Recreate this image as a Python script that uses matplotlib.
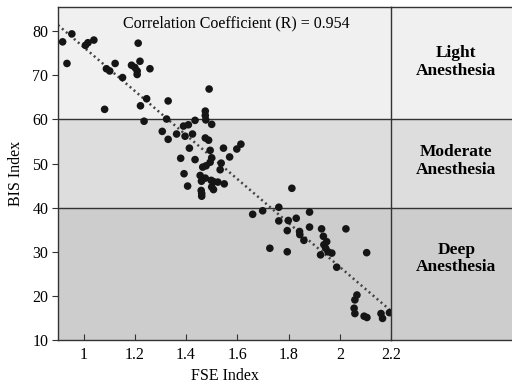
"""FSE index vs BIS index scatter with anesthesia depth bands"""
from matplotlib import pyplot as plt
import numpy as np

# ===== data =====
fse = [0.918, 0.954, 0.935, 1.007, 1.017, 1.040, 1.213, 1.22, 1.123, 1.089, 1.102,
       1.187, 1.200, 1.209, 1.209, 1.259, 1.152, 1.246, 1.330, 1.490, 1.082, 1.222,
       1.236, 1.324, 1.390, 1.409, 1.435, 1.475, 1.475, 1.477, 1.500, 1.307, 1.330,
       1.363, 1.396, 1.425, 1.413, 1.475, 1.488, 1.494, 1.546, 1.598, 1.614, 1.379,
       1.435, 1.500, 1.537, 1.570, 1.465, 1.478, 1.494, 1.533, 1.392, 1.455, 1.465,
       1.475, 1.498, 1.507, 1.524, 1.549, 1.460, 1.406, 1.500, 1.507, 1.459, 1.461,
       1.461, 1.813, 1.660, 1.699, 1.762, 1.882, 1.762, 1.799, 1.830, 1.882, 1.929,
       2.024, 1.795, 1.843, 1.844, 1.936, 1.949, 1.938, 1.945, 1.954, 1.969, 1.925,
       1.860, 1.727, 1.795, 2.105, 1.988, 2.067, 2.059, 2.056, 2.059, 2.095, 2.106,
       2.161, 2.167, 2.194]
bis = [77.6, 79.4, 72.7, 76.8, 77.4, 78.0, 77.3, 73.2, 72.7, 71.5, 71.0,
       72.3, 71.8, 71.0, 70.2, 71.5, 69.5, 64.7, 64.2, 66.9, 62.3, 63.1,
       59.6, 60.1, 58.5, 58.8, 59.8, 61.9, 60.9, 59.9, 58.9, 57.3, 55.5,
       56.7, 56.2, 56.7, 53.5, 55.8, 55.3, 53.0, 53.5, 53.3, 54.4, 51.2,
       50.9, 51.3, 50.1, 51.5, 49.2, 49.5, 50.3, 48.6, 47.7, 47.3, 46.5,
       46.7, 46.2, 45.9, 45.8, 45.4, 46.0, 44.9, 44.7, 44.1, 43.9, 43.2,
       42.6, 44.4, 38.5, 39.3, 40.1, 39.0, 37.0, 37.1, 37.6, 35.6, 35.2,
       35.2, 34.8, 34.6, 33.9, 33.5, 32.3, 31.6, 30.8, 30.0, 29.7, 29.3,
       32.6, 30.8, 30.0, 29.8, 26.5, 20.2, 19.1, 17.2, 16.0, 15.4, 15.1,
       16.0, 14.9, 16.2]

fit_x = [0.9, 2.2]
fit_y = [81.4, 16.6]
r_value = 0.954

bands = [(60, 85.5, 'Light\nAnesthesia', 73.0, '#f0f0f0'),
         (40, 60, 'Moderate\nAnesthesia', 50.5, '#dddddd'),
         (10, 40, 'Deep\nAnesthesia', 28.5, '#cdcdcd')]

if __name__ == '__main__':
    plt.rcParams['font.family'] = 'Liberation Serif'
    fig = plt.figure(figsize=(5.12, 3.84), dpi=100)
    ax = fig.add_axes([58 / 512, 1 - 340 / 384, 333 / 512, 333 / 384])
    side = fig.add_axes([391 / 512, 1 - 340 / 384, 121 / 512, 333 / 384])

    edge = '#333333'
    for a in (ax, side):
        a.set_ylim(10, 85.5)
        for lo, hi, _, _, c in bands:
            a.axhspan(lo, hi, color=c, zorder=0, linewidth=0)
        a.axhline(40, color=edge, lw=1.0, zorder=1)
        a.axhline(60, color=edge, lw=1.0, zorder=1)
        for s in a.spines.values():
            s.set_color(edge)
            s.set_linewidth(1.0)
        a.spines['right'].set_visible(False)

    ax.set_xlim(0.9, 2.2)
    ax.scatter(fse, bis, s=30, color='#151515', edgecolors='none', zorder=3, clip_on=False)
    ax.plot(fit_x, fit_y, color='#444444', lw=1.8, linestyle=(0, (0.8, 1.3)), zorder=2)
    ax.text(1.596, 81.8, f'Correlation Coefficient (R) = {r_value}', ha='center',
            va='center', fontsize=11.5)

    ax.set_xticks([1, 1.2, 1.4, 1.6, 1.8, 2.0, 2.2])
    ax.set_xticklabels(['1', '1.2', '1.4', '1.6', '1.8', '2', '2.2'])
    ax.set_yticks(np.arange(10, 81, 10))
    ax.tick_params(axis='x', direction='in', length=4, pad=5, labelsize=11.5, color=edge)
    ax.tick_params(axis='y', direction='out', length=4, pad=3, labelsize=11.5, color=edge)
    ax.set_xlabel('FSE Index', fontsize=11.5, labelpad=4)
    ax.set_ylabel('BIS Index', fontsize=11.5, labelpad=6)

    side.set_xlim(0, 1)
    side.set_xticks([])
    side.set_yticks([])
    for _, _, label, ty, _ in bands:
        side.text(0.54, ty, label, ha='center', va='center', fontsize=12.5,
                  fontweight='bold', linespacing=1.15)

    fig.savefig('out.png', dpi=100)
